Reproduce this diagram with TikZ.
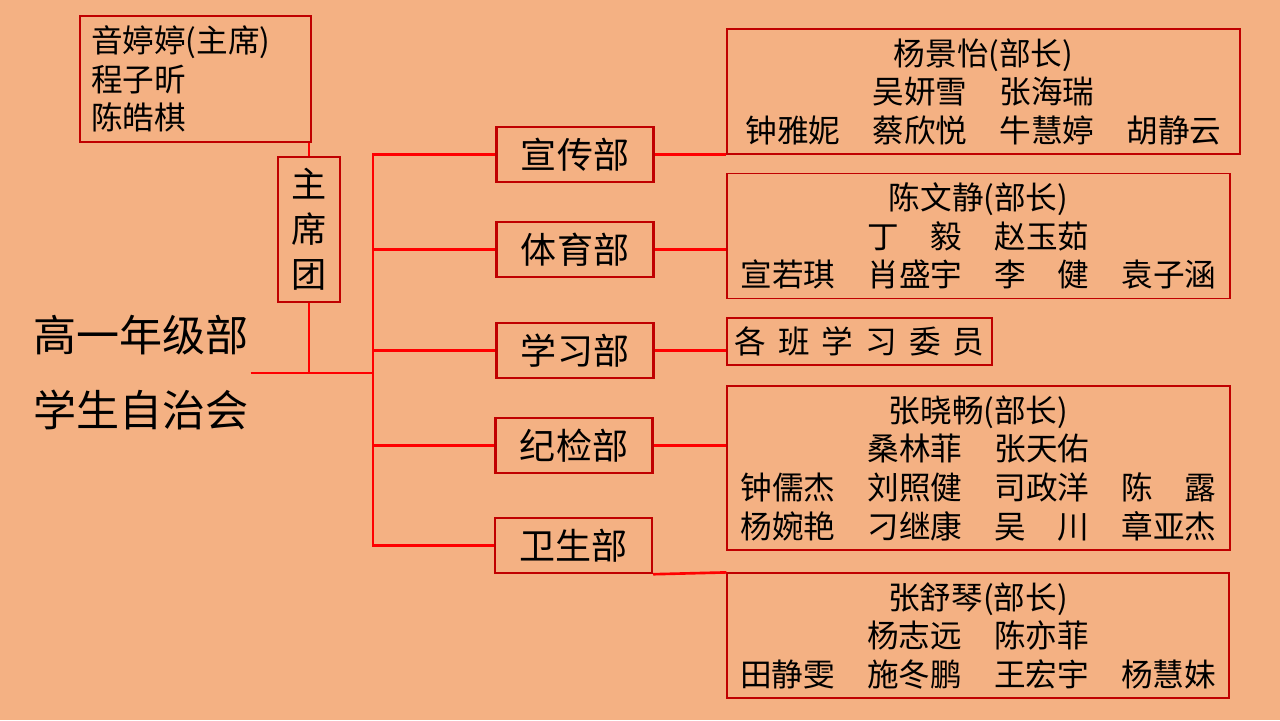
\documentclass[tikz,border=0pt]{standalone}
\usepackage{fontspec}
\setmainfont{Noto Sans CJK SC}
\usetikzlibrary{positioning}
\usetikzlibrary{calc}

\definecolor{bgpeach}{HTML}{F4B183}
\definecolor{boxred}{HTML}{C00000}
\definecolor{linkred}{HTML}{FF0000}
\setlength{\tabcolsep}{0pt}
\newcommand{\namegrid}[2]{\begin{tabular}{p{2.54cm}p{2.54cm}p{2.54cm}l}\multicolumn{4}{c}{\rule{0pt}{20.5pt}#1}\\#2\end{tabular}}

\begin{document}
\begin{tikzpicture}[x=0.02cm, y=-0.02cm,
    member/.style={draw=boxred, line width=0.7pt, inner sep=0pt, font=\fontsize{18}{22}\selectfont},
    dept/.style={draw=boxred, line width=1.4pt, minimum width=3.14cm, minimum height=1.1cm, inner sep=0pt, font=\fontsize{20.5}{24}\selectfont},
    link/.style={draw=linkred, line width=1.5pt}]
        \fill[bgpeach] (0,0) rectangle (1280,720);

        \node[font=\fontsize{24.5}{42.7}\selectfont, align=center, inner sep=1pt] (title) at (141,373) {高一年级部\\学生自治会};

        \node[member, text width=4.18cm, inner xsep=0.22cm, minimum height=2.52cm, align=left] (chair) at (195.5,79) {音婷婷(主席)\\程子昕\\陈皓棋};
        \node[dept, minimum width=1.24cm, minimum height=2.9cm, align=center, font=\fontsize{20}{25.6}\selectfont] (zxt) at (309,229.5) {主\\席\\团};

        \node[dept] (xc) at (575,154.5) {宣传部};
        \node[dept] (ty) at (575,249.5) {体育部};
        \node[dept] (xx) at (575,350.5) {学习部};
        \node[dept] (jj) at (574,445.5) {纪检部};
        \node[dept] (ws) at (573.5,545.5) {卫生部};

        \node[member, minimum width=10.26cm, minimum height=2.5cm] (mxc) at (983.5,91.5) {\namegrid{杨景怡(部长)}{ & 吴妍雪 & 张海瑞 & \\ 钟雅妮 & 蔡欣悦 & 牛慧婷 & 胡静云}};
        \node[member, minimum width=10.06cm, minimum height=2.48cm] (mty) at (978.5,236) {\namegrid{陈文静(部长)}{ & 丁　毅 & 赵玉茹 & \\ 宣若琪 & 肖盛宇 & 李　健 & 袁子涵}};
        \node[member, minimum width=5.3cm, minimum height=0.94cm] (mxx) at (859.5,341.5) {各\hspace{0.38em}班\hspace{0.38em}学\hspace{0.38em}习\hspace{0.38em}委\hspace{0.38em}员};
        \node[member, minimum width=10.06cm, minimum height=3.28cm] (mjj) at (978.5,468) {\namegrid{张晓畅(部长)}{ & 桑林菲 & 张天佑 & \\ 钟儒杰 & 刘照健 & 司政洋 & 陈　露\\ 杨婉艳 & 刁继康 & 吴　川 & 章亚杰}};
        \node[member, minimum width=10.04cm, minimum height=2.5cm] (mws) at (978,635.5) {\namegrid{张舒琴(部长)}{ & 杨志远 & 陈亦菲 & \\ 田静雯 & 施冬鹏 & 王宏宇 & 杨慧妹}};

        % left side
        \coordinate (hub) at (373,373);
        \draw[link] (title.east) -- (hub);
        \draw[link] (zxt.south) -- (zxt.south |- hub);
        \draw[link] (chair.south -| zxt.north) -- (zxt.north);
        \draw[link] (xc.west) -| (hub |- ws.west) -- (ws.west);
        \draw[link] (ty.west) -- (ty.west -| hub);
        \draw[link] (xx.west) -- (xx.west -| hub);
        \draw[link] (jj.west) -- (jj.west -| hub);

        % right side
        \draw[link] (xc.east) -- (xc.east -| mxc.west);
        \draw[link] (ty.east) -- (ty.east -| mty.west);
        \draw[link] (xx.east) -- (xx.east -| mxx.west);
        \draw[link] (jj.east) -- (jj.east -| mjj.west);
        \draw[link] (ws.south east) -- (mws.north west);
      \end{tikzpicture}
\end{document}
